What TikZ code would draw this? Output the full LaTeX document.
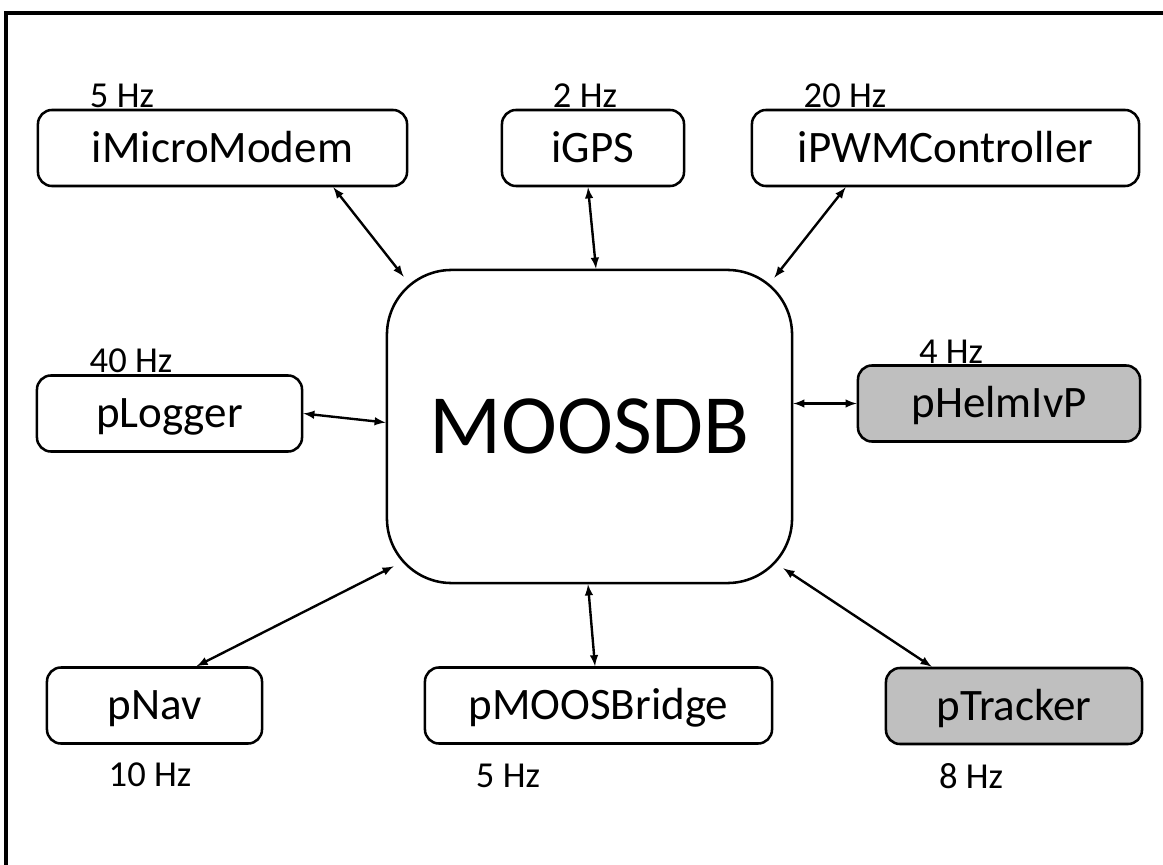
\documentclass[tikz,border=0pt]{standalone}
\usepackage{fontspec}
\setmainfont{Carlito}
\usetikzlibrary{calc}

\begin{document}
\begin{tikzpicture}[x=0.025cm, y=-0.025cm,
	proc/.style={draw, line width=1.8pt, rounded corners=10pt, minimum height=1.9cm, inner sep=0pt, text height=20.6pt, text depth=0pt, font=\fontsize{32}{38}\selectfont},
	rate/.style={inner sep=0pt, font=\fontsize{26}{30}\selectfont},
	link/.style={<->, >=latex, line width=1.7pt}]

\useasboundingbox (0,0) rectangle (1163,865);
% outer frame, cut off at right and bottom
\draw[line width=2.8pt] (6,865) |- (1163,13);

\node[proc, rounded corners=46pt, minimum width=10.125cm, minimum height=7.825cm, text height=38.6pt, font=\fontsize{60}{70}\selectfont] (db) at (589.5,426.5) {MOOSDB};

\foreach \name/\x/\y/\w/\fc/\txt in {modem/222.5/148/9.225/white/iMicroModem, gps/593/148/4.55/white/iGPS, pwm/945.5/148/9.675/white/iPWMController, logger/169.5/413.5/6.625/white/pLogger, helm/999/403.5/7.05/black!25/pHelmIvP, nav/154.5/705.5/5.375/white/pNav, bridge/598.5/705.5/8.675/white/pMOOSBridge, tracker/1014/706/6.4/black!25/pTracker}
{
	\node[proc, fill=\fc, minimum width=\w cm] (\name) at (\x,\y) {\txt};
}

% update rates
\foreach \name/\x/\y/\txt in {modemhz/122/95.5/5 Hz, gpshz/585/96/2 Hz, pwmhz/845/95.5/20 Hz, loggerhz/131/360.5/40 Hz, helmhz/951/352/4 Hz, navhz/150/775/10 Hz, bridgehz/508/776/5 Hz, trackerhz/971/776.5/8 Hz}
{
	\node[rate] (\name) at (\x,\y) {\txt};
}

\draw[link] ($(modem.south east)+(-75,0)$) -- ($(db.north west)+(18,8)$);
\draw[link] ($(gps.south)+(-5,0)$) -- ($(db.north)+(6.5,0)$);
\draw[link] ($(pwm.south west)+(95,0)$) -- ($(db.north east)+(-19,9)$);
\draw[link] (logger.east) -- ($(db.west)+(0,-4)$);
\draw[link] (db.east |- helm.west) -- (helm.west);
\draw[link] ($(nav.north)+(42,0)$) -- ($(db.south west)+(8,-18)$);
\draw[link] ($(bridge.north)+(-3.5,0)$) -- ($(db.south)+(-1.5,0)$);
\draw[link] ($(tracker.north west)+(47,0)$) -- ($(db.south east)+(-10,-16)$);
\end{tikzpicture}
\end{document}
